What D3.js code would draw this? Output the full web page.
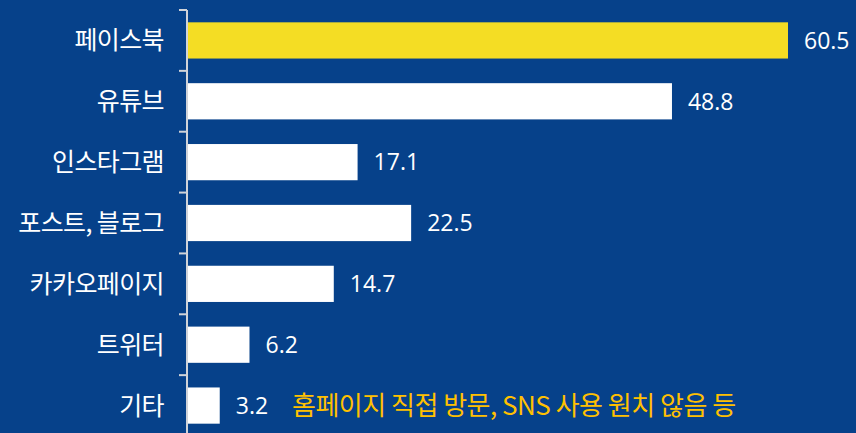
<!DOCTYPE html>
<html>
<head>
<meta charset="utf-8">
<script src="https://cdn.jsdelivr.net/npm/d3@7/dist/d3.min.js"></script>
<style>
  html, body { margin: 0; padding: 0; background: #06418a; }
  svg { display: block; }
</style>
</head>
<body>
<div id="chart"></div>
<script>
// data
const categories = ['페이스북', '유튜브', '인스타그램', '포스트, 블로그', '카카오페이지', '트위터', '기타'];
const values = [60.5, 48.8, 17.1, 22.5, 14.7, 6.2, 3.2];
const highlight = '페이스북';
const note = '홈페이지 직접 방문, SNS 사용 원치 않음 등';

const width = 856, height = 433;

const svg = d3.select('#chart').append('svg')
  .attr('width', width)
  .attr('height', height);

svg.append('rect').attr('width', width).attr('height', height).attr('fill', '#06418a');

const x = d3.scaleLinear().domain([0, 60.5]).range([188, 788]);
const y = d3.scaleBand().domain(categories).range([10, 436]);
const barH = y.bandwidth() * 0.595;

// axis line + ticks at band edges
const axisX = 187;
svg.append('line')
  .attr('x1', axisX).attr('x2', axisX)
  .attr('y1', 10).attr('y2', height)
  .attr('stroke', '#d0d3d9').attr('stroke-width', 2);

svg.selectAll('.tick').data(categories).enter().append('line')
  .attr('class', 'tick')
  .attr('x1', axisX - 8).attr('x2', axisX)
  .attr('y1', d => y(d)).attr('y2', d => y(d))
  .attr('stroke', '#d0d3d9').attr('stroke-width', 2);

// bars
svg.selectAll('.bar').data(categories).enter().append('rect')
  .attr('class', 'bar')
  .attr('x', x(0))
  .attr('y', d => y(d) + (y.bandwidth() - barH) / 2)
  .attr('width', (d, i) => x(values[i]) - x(0))
  .attr('height', barH)
  .attr('fill', d => d === highlight ? '#f4dd24' : '#ffffff');

// category labels
svg.selectAll('.cat').data(categories).enter().append('text')
  .attr('class', 'cat')
  .attr('x', 164)
  .attr('y', d => y(d) + y.bandwidth() / 2)
  .attr('dy', '0.36em')
  .attr('text-anchor', 'end')
  .attr('fill', '#ffffff')
  .style('font-family', "'Noto Sans CJK KR', sans-serif")
  .style('font-size', '25px')
  .style('font-weight', 400)
  .style('letter-spacing', '-0.6px')
  .text(d => d);

// value labels
svg.selectAll('.val').data(categories).enter().append('text')
  .attr('class', 'val')
  .attr('x', (d, i) => x(values[i]) + 16)
  .attr('y', d => y(d) + y.bandwidth() / 2)
  .attr('dy', '0.36em')
  .attr('fill', '#ffffff')
  .style('font-family', "'Open Sans', sans-serif")
  .style('font-size', '23px')
  .text((d, i) => values[i].toFixed(1));

// note next to the last bar
const last = categories[categories.length - 1];
svg.append('text')
  .attr('x', 292)
  .attr('y', y(last) + y.bandwidth() / 2)
  .attr('dy', '0.36em')
  .attr('fill', '#ffc000')
  .style('font-family', "'Noto Sans CJK KR', sans-serif")
  .style('font-size', '26px')
  .style('font-weight', 400)
  .style('letter-spacing', '-0.5px')
  .text(note);
</script>
</body>
</html>
